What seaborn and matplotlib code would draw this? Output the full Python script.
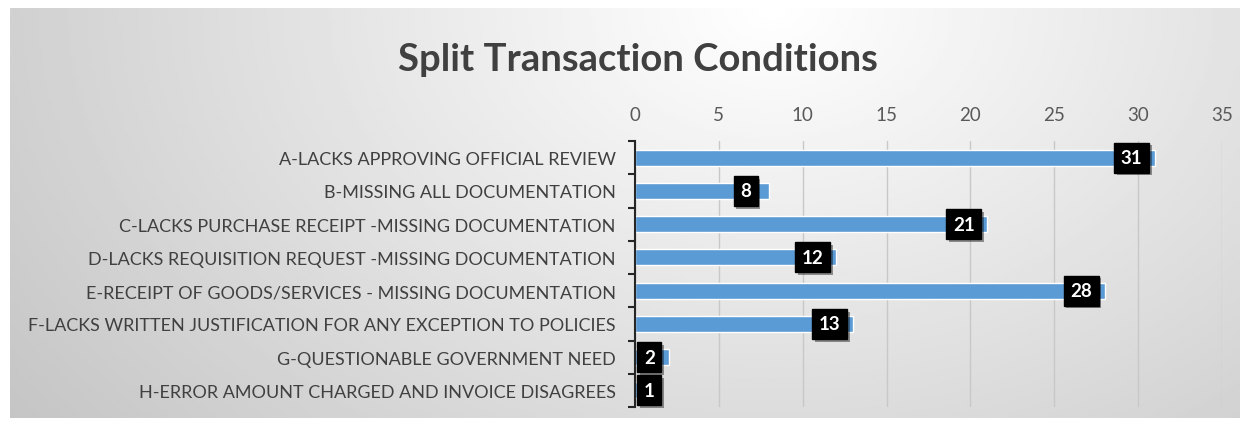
import numpy as np
import pandas as pd
import matplotlib
matplotlib.use("Agg")
import matplotlib.pyplot as plt
import matplotlib.patheffects as pe
import seaborn as sns

categories = [
    "A-LACKS APPROVING OFFICIAL REVIEW",
    "B-MISSING ALL DOCUMENTATION",
    "C-LACKS PURCHASE RECEIPT -MISSING DOCUMENTATION",
    "D-LACKS REQUISITION REQUEST -MISSING DOCUMENTATION",
    "E-RECEIPT OF GOODS/SERVICES - MISSING DOCUMENTATION",
    "F-LACKS WRITTEN JUSTIFICATION FOR ANY EXCEPTION TO POLICIES",
    "G-QUESTIONABLE GOVERNMENT NEED",
    "H-ERROR AMOUNT CHARGED AND INVOICE DISAGREES",
]
values = [31, 8, 21, 12, 28, 13, 2, 1]
x_ticks = [0, 5, 10, 15, 20, 25, 30, 35]
title = "Split Transaction Conditions"

df = pd.DataFrame({"condition": categories, "count": values})

sns.set_theme(style="white")
plt.rcParams["font.family"] = ["Lato", "DejaVu Sans"]

W, H = 1248, 427
fig = plt.figure(figsize=(W / 100, H / 100), dpi=100, facecolor="white")

# background gradient panel
bg = fig.add_axes([10 / W, 8 / H, 1230 / W, 410 / H])
gx = np.linspace(0, 1, 400)
gy = np.linspace(0, 1, 150)
X, Y = np.meshgrid(gx, gy)
d = np.sqrt(((X - 0.62) / 0.75) ** 2 + ((Y - 0.0) / 1.6) ** 2)
val = 1.0 - 0.22 * np.clip(d, 0, 1.2)
bg.imshow(val, cmap="gray", vmin=0, vmax=1, aspect="auto", extent=[0, 1, 1, 0])
bg.set_axis_off()

ax = fig.add_axes([635 / W, 19 / H, (1222 - 635) / W, (408 - 142) / H])
ax.patch.set_alpha(0)
sns.barplot(data=df, y="condition", x="count", orient="h", color="#5B9BD5",
            saturation=1, width=0.48, ax=ax)
ax.set_xlim(0, 35)
ax.set_ylim(len(categories) - 0.5, -0.5)
ax.set_xticks(x_ticks)
ax.xaxis.tick_top()
ax.tick_params(axis="x", length=0, pad=13, labelsize=13.5, labelcolor="#595959")
ax.set_xlabel("")
ax.set_ylabel("")
ax.grid(axis="x", color="#c8c8c8", linewidth=1)
ax.set_axisbelow(True)
for s in ["top", "right", "bottom"]:
    ax.spines[s].set_visible(False)
ax.spines["left"].set_color("#262626")
ax.spines["left"].set_linewidth(1.5)
ax.set_yticks(range(len(categories)))
ax.set_yticklabels(categories)
ax.tick_params(axis="y", which="major", left=False, length=0, pad=14,
               labelsize=13, labelcolor="#404040")
ax.set_yticks(np.arange(-0.5, len(categories), 1), minor=True)
ax.tick_params(axis="y", which="minor", left=True, length=5, width=1.5,
               color="#262626", direction="out")

for i, v in enumerate(values):
    xc = max(v - 1.4, 0.85)
    ax.text(xc, i, str(v), ha="center", va="center", color="white",
            fontsize=13.5, fontweight="bold",
            bbox=dict(boxstyle="square,pad=0.35", fc="black", ec="black",
                      path_effects=[pe.withSimplePatchShadow(offset=(2, -2), alpha=0.4)]))

fig.text(638 / W, 1 - 60 / H, title, ha="center", va="center", fontsize=27.5,
         fontweight="bold", color="#404040")

fig.savefig("out.png", dpi=100, facecolor="white")
